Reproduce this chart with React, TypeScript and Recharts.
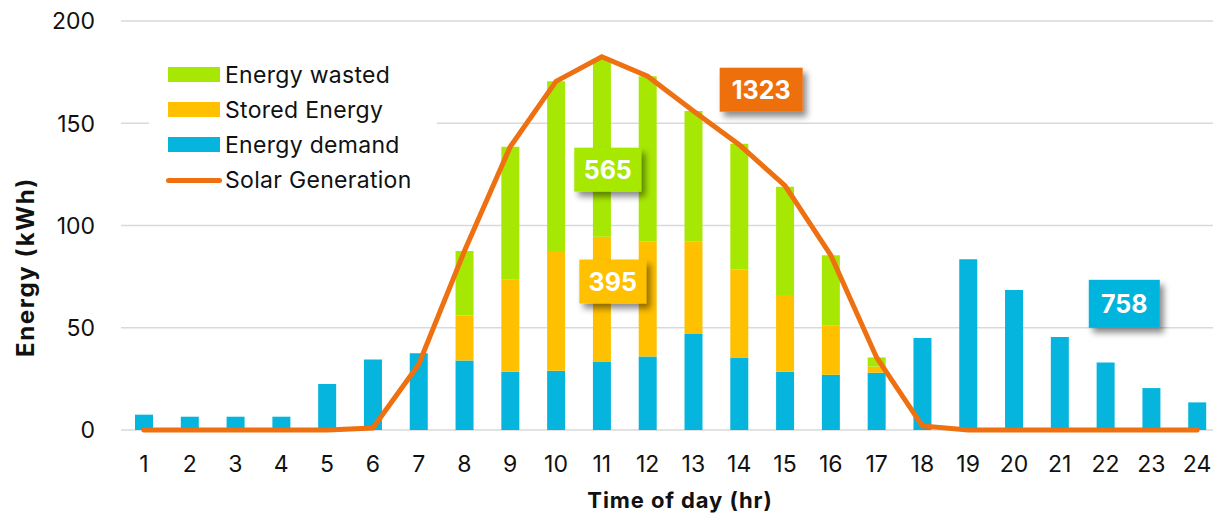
import {
  ComposedChart,
  Bar,
  Line,
  XAxis,
  YAxis,
  CartesianGrid,
  Legend,
  ReferenceDot,
} from 'recharts';

const HOURS = [1, 2, 3, 4, 5, 6, 7, 8, 9, 10, 11, 12, 13, 14, 15, 16, 17, 18, 19, 20, 21, 22, 23, 24];
const DEMAND = [7.5, 6.5, 6.5, 6.5, 22.5, 34.5, 37.5, 34, 28.5, 29, 33.5, 36, 47, 35.5, 28.5, 27, 28, 45, 83.5, 68.5, 45.5, 33, 20.5, 13.5];
const STORED = [0, 0, 0, 0, 0, 0, 0, 22, 45, 58.5, 61, 56, 45, 43, 37.5, 24, 3, 0, 0, 0, 0, 0, 0, 0];
const WASTED = [0, 0, 0, 0, 0, 0, 0, 31.5, 65, 83, 87, 81, 64, 61.5, 53, 34.5, 4.5, 0, 0, 0, 0, 0, 0, 0];
const SOLAR = [0, 0, 0, 0, 0, 1, 32, 87.5, 138.5, 170.5, 182.5, 173, 156, 139.5, 119.5, 85.5, 35.5, 2, 0, 0, 0, 0, 0, 0];
const Y_TICKS = [0, 50, 100, 150, 200];

const C_DEMAND = '#05b5dd';
const C_STORED = '#ffc000';
const C_WASTED = '#a6e804';
const C_SOLAR = '#ee7010';
const FONT = 'Inter, "Open Sans", sans-serif';

const total = (arr: number[]) => Math.round(arr.reduce((s, v) => s + v, 0));

const data = HOURS.map((h, i) => ({
  hour: h,
  demand: DEMAND[i],
  stored: STORED[i] || null,
  wasted: WASTED[i] || null,
  solar: SOLAR[i],
}));

// callout boxes: position in (hour, kWh) units
const CALLOUTS = [
  { x: 11.13, y: 127.3, w: 67, h: 44, fill: C_WASTED, text: String(total(WASTED)) },
  { x: 11.24, y: 72.6, w: 67, h: 44, fill: C_STORED, text: String(total(STORED)) },
  { x: 14.48, y: 166.4, w: 83, h: 44, fill: C_SOLAR, text: String(total(SOLAR)) },
  { x: 22.41, y: 61.7, w: 71, h: 48, fill: C_DEMAND, text: String(total(DEMAND)) },
];

function CalloutShape({ cx, cy, w, h, fill, text }: any) {
  return (
    <g>
      <rect x={cx - w / 2} y={cy - h / 2} width={w} height={h} fill={fill} filter="url(#calloutShadow)" />
      <text
        x={cx}
        y={cy}
        dy="0.36em"
        textAnchor="middle"
        fill="#fff"
        fontSize={25}
        fontWeight={700}
        fontFamily={FONT}
      >
        {text}
      </text>
    </g>
  );
}

const LEGEND_ROWS = [
  { label: 'Energy wasted', color: C_WASTED, kind: 'box' },
  { label: 'Stored Energy', color: C_STORED, kind: 'box' },
  { label: 'Energy demand', color: C_DEMAND, kind: 'box' },
  { label: 'Solar Generation', color: C_SOLAR, kind: 'line' },
];

function LegendContent() {
  const rowY = [19.5, 54.5, 89.5, 125];
  return (
    <div style={{ position: 'relative', width: 288, height: 140, background: '#fff' }}>
      {LEGEND_ROWS.map((r, i) => (
        <div key={r.label}>
          {r.kind === 'box' ? (
            <div
              style={{
                position: 'absolute',
                left: 19,
                top: rowY[i] - 7.5,
                width: 52,
                height: 15,
                background: r.color,
              }}
            />
          ) : (
            <div
              style={{
                position: 'absolute',
                left: 17,
                top: rowY[i] - 2.5,
                width: 56,
                height: 5,
                borderRadius: 3,
                background: r.color,
              }}
            />
          )}
          <div
            style={{
              position: 'absolute',
              left: 76,
              top: rowY[i] - 15,
              height: 30,
              lineHeight: '30px',
              fontSize: 23,
              letterSpacing: 0.3,
              fontFamily: FONT,
              color: '#111',
              whiteSpace: 'nowrap',
            }}
          >
            {r.label}
          </div>
        </div>
      ))}
    </div>
  );
}

export default function App() {
  return (
    <div
      style={{
        position: 'absolute',
        left: 0,
        top: 0,
        width: 1213,
        height: 513,
        overflow: 'hidden',
        background: '#fff',
      }}
    >
      <ComposedChart
        width={1220}
        height={513}
        data={data}
        margin={{ top: 21, right: 0, left: 0, bottom: 0 }}
        barCategoryGap="61%"
      >
        <defs>
          <filter id="calloutShadow" x="-30%" y="-30%" width="170%" height="180%">
            <feDropShadow dx={4} dy={5} stdDeviation={3} floodColor="#000" floodOpacity={0.45} />
          </filter>
        </defs>
        <CartesianGrid vertical={false} stroke="#d9d9d9" strokeWidth={1.5} />
        <XAxis
          dataKey="hour"
          axisLine={false}
          tickLine={false}
          interval={0}
          height={83}
          tick={({ x, payload }: any) => (
            <text x={x} y={472} textAnchor="middle" fontSize={23} fontFamily={FONT} fill="#111">
              {payload.value}
            </text>
          )}
          label={{
            content: () => (
              <text
                x={680}
                y={508}
                textAnchor="middle"
                fontSize={22}
                letterSpacing={0.9}
                fontWeight={700}
                fontFamily={FONT}
                fill="#111"
              >
                Time of day (hr)
              </text>
            ),
          }}
        />
        <XAxis
          xAxisId="pos"
          dataKey="hour"
          type="number"
          domain={[0.5, 24.5]}
          allowDataOverflow
          height={83}
          hide
        />
        <YAxis
          width={121}
          domain={[0, 200]}
          ticks={Y_TICKS}
          axisLine={false}
          tickLine={false}
          tick={({ y, payload }: any) => (
            <text x={95} y={y} dy="0.36em" textAnchor="end" fontSize={23} fontFamily={FONT} fill="#111">
              {payload.value}
            </text>
          )}
          label={{
            content: () => (
              <text
                transform="translate(34,267) rotate(-90)"
                textAnchor="middle"
                fontSize={24}
                letterSpacing={1.6}
                fontWeight={700}
                fontFamily={FONT}
                fill="#111"
              >
                Energy (kWh)
              </text>
            ),
          }}
        />
        <Legend
          layout="vertical"
          align="center"
          verticalAlign="middle"
          content={() => <LegendContent />}
          wrapperStyle={{ left: 149, top: 55, width: 288, height: 140 }}
        />
        <Bar dataKey="demand" name="Energy demand" stackId="e" fill={C_DEMAND} barSize={18} isAnimationActive={false} />
        <Bar dataKey="stored" name="Stored Energy" stackId="e" fill={C_STORED} barSize={18} isAnimationActive={false} />
        <Bar dataKey="wasted" name="Energy wasted" stackId="e" fill={C_WASTED} barSize={18} isAnimationActive={false} />
        <Line
          type="linear"
          dataKey="solar"
          name="Solar Generation"
          stroke={C_SOLAR}
          strokeWidth={5}
          strokeLinecap="round"
          dot={false}
          activeDot={false}
          isAnimationActive={false}
        />
        {CALLOUTS.map((c) => (
          <ReferenceDot
            key={c.text + c.fill}
            xAxisId="pos"
            x={c.x}
            y={c.y}
            r={0}
            shape={(p: any) => <CalloutShape {...p} w={c.w} h={c.h} fill={c.fill} text={c.text} />}
          />
        ))}
      </ComposedChart>
    </div>
  );
}
